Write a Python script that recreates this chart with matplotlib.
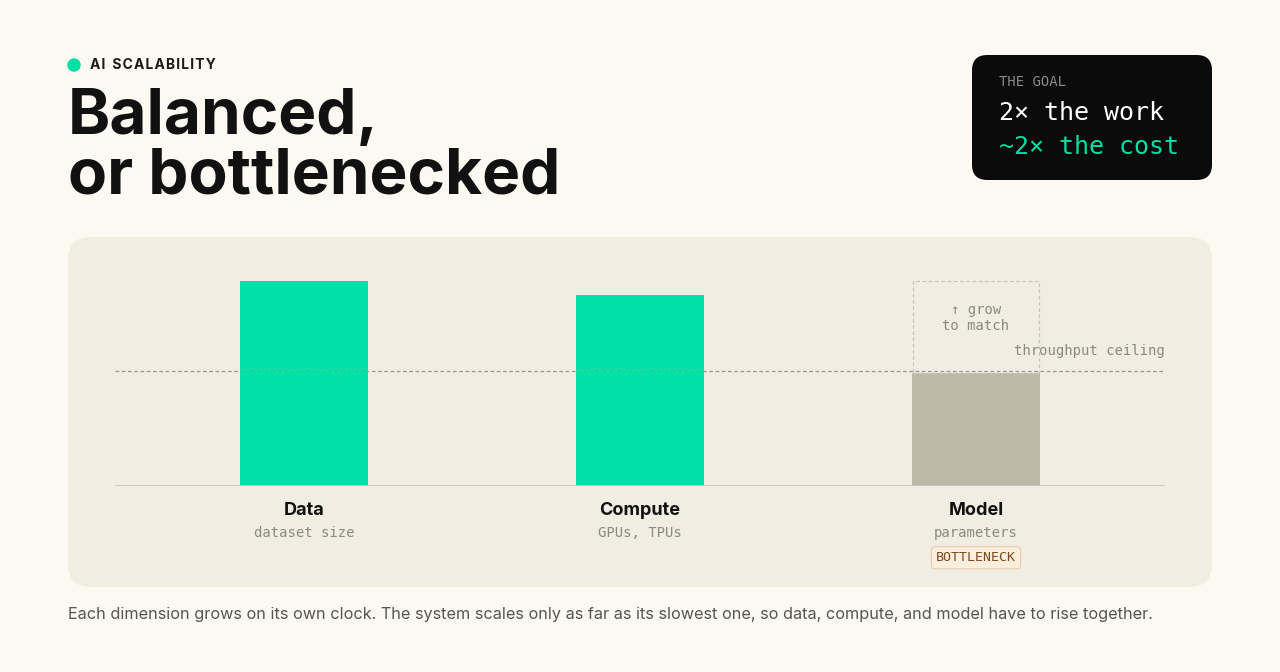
import matplotlib
matplotlib.use("Agg")
import matplotlib.pyplot as plt
from matplotlib.patches import FancyBboxPatch, Ellipse

categories = ["Data", "Compute", "Model"]
subtitles = ["dataset size", "GPUs, TPUs", "parameters"]
values = [100, 93, 55]
ceiling = 56
target = 100

W, H = 1280, 672
fig = plt.figure(figsize=(12.8, 6.72), dpi=100)
fig.patch.set_facecolor("#FBF9F1")
def fy(y): return 1 - y / H
def fx(x): return x / W

fig.patches.append(FancyBboxPatch((fx(68), fy(587)), fx(1144), 350 / H,
    boxstyle="round,pad=0,rounding_size=0.018", transform=fig.transFigure,
    facecolor="#F1EDE2", edgecolor="none", mutation_aspect=W / H, zorder=0))
fig.patches.append(FancyBboxPatch((fx(972), fy(180)), fx(240), 125 / H,
    boxstyle="round,pad=0,rounding_size=0.012", transform=fig.transFigure,
    facecolor="#0B0B0B", edgecolor="none", mutation_aspect=W / H, zorder=0))
fig.patches.append(Ellipse((fx(74), fy(65)), 12 / W, 12 / H, transform=fig.transFigure,
    color="#00E0A4", zorder=0))
fig.text(fx(90), fy(65), "A I  S C A L A B I L I T Y".replace("  ", "\u2002").replace(" ", "\u200a"),
         fontsize=10, fontweight="bold", family="Inter", color="#1A1A1A", va="center")
fig.text(fx(68), fy(117), "Balanced,", fontsize=46, fontweight="bold", family="Inter",
         color="#111111", va="center")
fig.text(fx(68), fy(177), "or bottlenecked", fontsize=46, fontweight="bold", family="Inter",
         color="#111111", va="center")
fig.text(fx(999), fy(82), "THE GOAL", fontsize=10, family="DejaVu Sans Mono",
         color="#8A8A8A", va="center")
fig.text(fx(999), fy(113), "2× the work", fontsize=18, family="DejaVu Sans Mono",
         color="white", va="center")
fig.text(fx(999), fy(147), "~2× the cost", fontsize=18, family="DejaVu Sans Mono",
         color="#00E0A4", va="center")
fig.text(fx(68), fy(614), "Each dimension grows on its own clock. The system scales only as far as its slowest one, so data, compute, and model have to rise together.",
         fontsize=11.7, family="Inter", color="#555555", va="center")

ax = fig.add_axes([fx(115), fy(486), fx(1050), 250 / H])
ax.set_zorder(2)
ax.set_facecolor("none")
ax.set_xlim(-0.5625, 2.5625)
ax.set_ylim(0, 122)
ax.axis("off")
bw = 128 / 336
colors = ["#00E0A8", "#00E0A8", "#BDBAAA"]
ax.bar(range(3), values, bw, color=colors)
ax.bar(2, target - values[2], bw * 0.98, bottom=values[2], fill=False,
       edgecolor="#C9C6B8", linestyle=(0, (3, 2)), linewidth=0.9)
ax.text(2, 82, "↑ grow\nto match", ha="center", va="center", family="DejaVu Sans Mono",
        fontsize=10, color="#8A8A80", linespacing=1.2)
ax.axhline(ceiling, color="#9A978C", linestyle=(0, (3, 2)), linewidth=0.9)
ax.text(2.5625, ceiling + 10, "throughput ceiling", ha="right", va="center",
        family="DejaVu Sans Mono", fontsize=10, color="#8A8A80")
ax.axhline(0, color="#C9C6B8", linewidth=1.2)
for i, (c, s) in enumerate(zip(categories, subtitles)):
    ax.text(i, -12, c, ha="center", va="center", family="Inter", fontweight="bold",
            fontsize=13, color="#111111")
    ax.text(i, -23, s, ha="center", va="center", family="DejaVu Sans Mono",
            fontsize=10, color="#8A8A80")
ax.text(2, -35, "BOTTLENECK", ha="center", va="center", family="DejaVu Sans Mono",
        fontsize=9.5, color="#7A4A1E",
        bbox=dict(boxstyle="round,pad=0.35,rounding_size=0.3", facecolor="#FBEEDD",
                  edgecolor="#E8CDA8", linewidth=0.8))
for t in ax.texts:
    t.set_clip_on(False)

fig.savefig("out.png", dpi=100, facecolor=fig.get_facecolor())
